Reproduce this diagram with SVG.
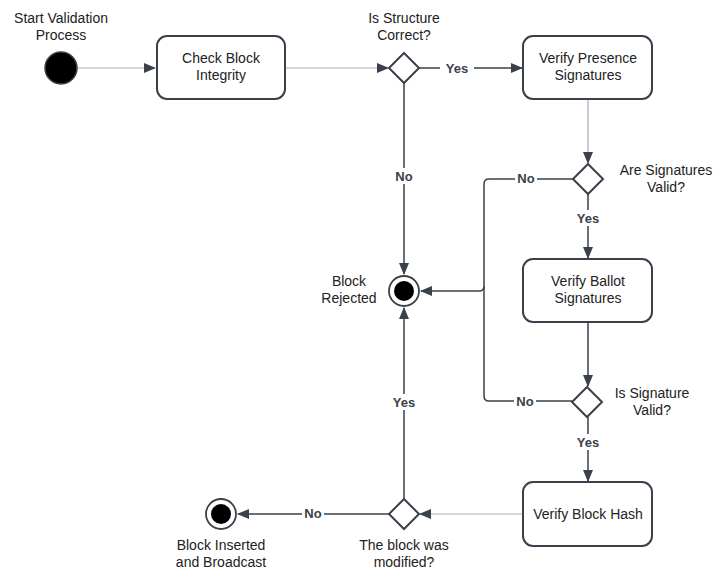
<svg xmlns="http://www.w3.org/2000/svg" width="713" height="569" viewBox="0 0 713 569">
<defs>
<marker id="ah" markerWidth="12" markerHeight="10" refX="11" refY="5" orient="auto" markerUnits="userSpaceOnUse">
<path d="M0,0 L12,5 L0,10 Z" fill="#3a414a"/>
</marker>
<style>
.t{font-family:"Liberation Sans",Arial,sans-serif;font-size:14px;fill:#222;text-anchor:middle}
.l{font-family:"Liberation Sans",Arial,sans-serif;font-size:13px;font-weight:bold;fill:#3a414a;text-anchor:middle}
.box{fill:#fff;stroke:#3a414a;stroke-width:2}
.dia{fill:#fff;stroke:#3a414a;stroke-width:2}
.c{fill:none;stroke:#3a414a;stroke-width:1.5}
.cl{fill:none;stroke:#a8abb0;stroke-width:1.2}
.bg{fill:#fff}
</style>
</defs>
<rect width="713" height="569" fill="#fff"/>
<g id="connectors">
<path class="cl" d="M77,68 H155" marker-end="url(#ah)"/>
<path class="cl" d="M285,68 H388" marker-end="url(#ah)"/>
<path class="c" d="M419,68 H522" marker-end="url(#ah)"/>
<path class="cl" d="M588,99 V163" marker-end="url(#ah)"/>
<path class="c" d="M404,83 V274" marker-end="url(#ah)"/>
<path class="c" d="M573,179 H489 Q484,179 484,184 V286 Q484,291 479,291 H421" marker-end="url(#ah)"/>
<path class="c" d="M484,286 V396 Q484,401 489,401 H572"/>
<path class="c" d="M588,194 V258" marker-end="url(#ah)"/>
<path class="c" d="M588,323 V386" marker-end="url(#ah)"/>
<path class="c" d="M588,417 V481" marker-end="url(#ah)"/>
<path class="cl" d="M523,514 H420" marker-end="url(#ah)"/>
<path class="c" d="M404,499 V308" marker-end="url(#ah)"/>
<path class="c" d="M389,514 H238" marker-end="url(#ah)"/>
<rect class="bg" x="440" y="60" width="34" height="16"/>
<text class="l" x="457" y="73">Yes</text>
<rect class="bg" x="393" y="168" width="22" height="16"/>
<text class="l" x="404" y="181">No</text>
<rect class="bg" x="515" y="171" width="22" height="16"/>
<text class="l" x="526" y="183">No</text>
<rect class="bg" x="571" y="210" width="34" height="16"/>
<text class="l" x="588" y="223">Yes</text>
<rect class="bg" x="514" y="393" width="22" height="16"/>
<text class="l" x="525" y="406">No</text>
<rect class="bg" x="571" y="434" width="34" height="16"/>
<text class="l" x="588" y="447">Yes</text>
<rect class="bg" x="387" y="394" width="34" height="16"/>
<text class="l" x="404" y="407">Yes</text>
<rect class="bg" x="302" y="506" width="22" height="16"/>
<text class="l" x="313" y="518">No</text>
</g>
<g id="start">
<circle cx="61" cy="68" r="16" fill="#000" stroke="#3a414a" stroke-width="1.5"/>
<text class="t" x="61" y="23">Start Validation</text>
<text class="t" x="61" y="40">Process</text>
</g>
<g id="check">
<rect class="box" x="157" y="36" width="128" height="63" rx="10"/>
<text class="t" x="221" y="63">Check Block</text>
<text class="t" x="221" y="80">Integrity</text>
</g>
<g id="d1">
<path class="dia" d="M404,53 L419,68 L404,83 L389,68 Z"/>
<text class="t" x="404" y="23">Is Structure</text>
<text class="t" x="404" y="40">Correct?</text>
</g>
<g id="presence">
<rect class="box" x="523" y="36" width="129" height="63" rx="10"/>
<text class="t" x="588" y="63">Verify Presence</text>
<text class="t" x="588" y="80">Signatures</text>
</g>
<g id="d2">
<path class="dia" d="M588,164 L603,179 L588,194 L573,179 Z"/>
<text class="t" x="666" y="175">Are Signatures</text>
<text class="t" x="666" y="192">Valid?</text>
</g>
<g id="rejected">
<circle cx="404" cy="291" r="15" fill="#fff" stroke="#3a414a" stroke-width="1.8"/>
<circle cx="404" cy="291" r="10" fill="#000"/>
<text class="t" x="349" y="286">Block</text>
<text class="t" x="349" y="303">Rejected</text>
</g>
<g id="ballot">
<rect class="box" x="523" y="259" width="129" height="63" rx="10"/>
<text class="t" x="588" y="286">Verify Ballot</text>
<text class="t" x="588" y="303">Signatures</text>
</g>
<g id="d3">
<path class="dia" d="M587,387 L602,402 L587,417 L572,402 Z"/>
<text class="t" x="652" y="398">Is Signature</text>
<text class="t" x="652" y="415">Valid?</text>
</g>
<g id="hash">
<rect class="box" x="523" y="482" width="129" height="64" rx="10"/>
<text class="t" x="588" y="519">Verify Block Hash</text>
</g>
<g id="d4">
<path class="dia" d="M404,499 L419,514 L404,529 L389,514 Z"/>
<text class="t" x="404" y="550">The block was</text>
<text class="t" x="404" y="567">modified?</text>
</g>
<g id="inserted">
<circle cx="221" cy="514" r="15" fill="#fff" stroke="#3a414a" stroke-width="1.8"/>
<circle cx="221" cy="514" r="10" fill="#000"/>
<text class="t" x="221" y="550">Block Inserted</text>
<text class="t" x="221" y="567">and Broadcast</text>
</g>
</svg>
